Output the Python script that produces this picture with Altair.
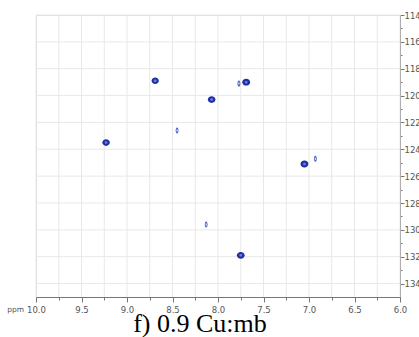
import altair as alt
import pandas as pd

# 1H chemical shift (ppm), 15N chemical shift (ppm), relative peak intensity
h_ppm = [8.69, 7.69, 7.77, 8.07, 8.45, 9.23, 8.13, 7.75, 7.05, 6.93]
n_ppm = [118.9, 119.0, 119.1, 120.3, 122.6, 123.5, 129.6, 131.9, 125.1, 124.7]
intensity = [0.75, 1.0, 0.35, 0.9, 0.3, 0.85, 0.3, 0.95, 1.0, 0.3]

x_ticks = [10.0, 9.75, 9.5, 9.25, 9.0, 8.75, 8.5, 8.25, 8.0, 7.75, 7.5, 7.25,
           7.0, 6.75, 6.5, 6.25, 6.0]
y_ticks = [114, 115, 116, 117, 118, 119, 120, 121, 122, 123, 124, 125, 126,
           127, 128, 129, 130, 131, 132, 133, 134]
y_grid = [114, 116, 118, 120, 122, 124, 126, 128, 130, 132, 134]

df = pd.DataFrame({"H": h_ppm, "N": n_ppm, "I": intensity})
df["kind"] = ["strong" if v >= 0.7 else "weak" for v in intensity]
df["I2"] = df["I"]
lab = pd.DataFrame({"H": [10.0], "N": [135.0], "t": ["ppm"]})
xg = pd.DataFrame({"H": x_ticks})
yg = pd.DataFrame({"N": y_grid})

round_path = "M-1,0 A1,0.88 0 1,1 1,0 A1,0.88 0 1,1 -1,0 Z"
narrow_path = "M0,-1 C0.62,-1 0.62,1 0,1 C-0.62,1 -0.62,-1 0,-1 Z"
shape_scale = alt.Scale(domain=["strong", "weak"], range=[round_path, narrow_path])

xscale = alt.Scale(domain=[10, 6], nice=False, zero=False)
yscale = alt.Scale(domain=[114, 135], reverse=True, nice=False, zero=False)

axis_common = dict(
    domainColor="#777777", tickColor="#777777", labelColor="#555555",
    labelFont="DejaVu Sans", labelFontSize=8.5, grid=False,
    labelOverlap=False, labelFlush=False, title=None, tickCount=100,
)

xaxis = alt.Axis(
    values=x_ticks,
    labelExpr="datum.value % 0.5 == 0 ? format(datum.value, '.1f') : ''",
    tickSize={"condition": {"test": "datum.value % 0.5 == 0", "value": 5}, "value": 3},
    labelPadding=3,
    **axis_common,
)
yaxis = alt.Axis(
    orient="right",
    values=y_ticks,
    labelExpr="datum.value % 2 == 0 ? format(datum.value, 'd') : ''",
    tickSize={"condition": {"test": "datum.value % 2 == 0", "value": 4}, "value": 2},
    labelPadding=0,
    **axis_common,
)

vgrid = alt.Chart(xg).mark_rule(color="#e8e8e8", strokeWidth=1).encode(
    x=alt.X("H:Q", scale=xscale, axis=xaxis),
)
hgrid = alt.Chart(yg).mark_rule(color="#e8e8e8", strokeWidth=1).encode(
    y=alt.Y("N:Q", scale=yscale, axis=yaxis),
)

base = alt.Chart(df)
outer = base.mark_point(filled=True, opacity=1).encode(
    x=alt.X("H:Q", scale=xscale),
    y=alt.Y("N:Q", scale=yscale),
    shape=alt.Shape("kind:N", scale=shape_scale, legend=None),
    size=alt.Size("I:Q", scale=alt.Scale(domain=[0.3, 1.0], range=[36, 62]), legend=None),
    color=alt.Color("kind:N", scale=alt.Scale(domain=["strong", "weak"], range=["#1f30a3", "#4a5cc8"]), legend=None),
)
inner = base.mark_point(filled=True, opacity=1).encode(
    x=alt.X("H:Q", scale=xscale),
    y=alt.Y("N:Q", scale=yscale),
    shape=alt.Shape("kind:N", scale=shape_scale, legend=None),
    size=alt.Size("I2:Q", scale=alt.Scale(domain=[0.3, 1.0], range=[9, 8]), legend=None),
    color=alt.Color("kind:N", scale=alt.Scale(domain=["strong", "weak"], range=["#6c7de0", "#d4dbf7"]), legend=None),
)
ppm_text = alt.Chart(lab).mark_text(
    font="DejaVu Sans", fontSize=7.5, color="#555555", align="right", baseline="top",
    dx=-12, dy=9,
).encode(
    x=alt.X("H:Q", scale=xscale),
    y=alt.Y("N:Q", scale=yscale),
    text="t:N",
)

chart = alt.layer(vgrid, hgrid, outer, inner, ppm_text).resolve_scale(
    size="independent", color="independent"
).properties(
    width=364,
    height=282,
    autosize="none",
    padding={"left": 36, "top": 15, "right": 19, "bottom": 40},
    title=alt.TitleParams(
        "f) 0.9 Cu:mb", orient="bottom", anchor="middle", font="Liberation Serif",
        fontSize=26, fontWeight="normal", color="black", baseline="alphabetic",
        offset=18, dx=-18,
    ),
).configure_view(stroke=None).configure(background="white")

chart.save("out.html", embed_options={"renderer": "svg", "actions": False})
